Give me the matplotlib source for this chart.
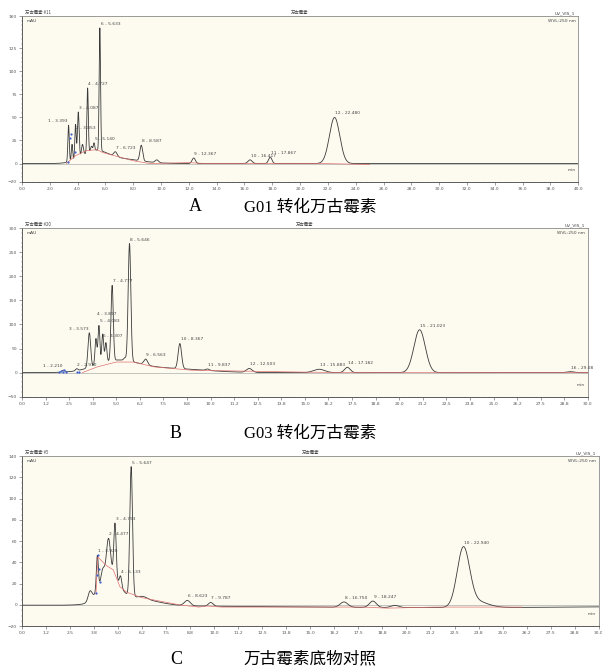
import numpy as np
import matplotlib
matplotlib.use("Agg")
import matplotlib.pyplot as plt
from matplotlib.ticker import MultipleLocator, FixedLocator

plt.rcParams['font.family'] = ['DejaVu Sans', 'Noto Sans CJK SC']

# --- peak tables (retention time, height above hump, width sigma, label) ---
# A: G01
rt_A = [3.35, 3.6, 3.85, 4.05, 4.35, 4.72, 5.0, 5.18, 5.6, 6.72, 8.58, 9.7, 12.35, 16.4, 17.85, 22.48]
h_A = [40, 18, 38, 50, 12, 70, 5, 8, 133, 5, 17, 3, 6, 4, 7, 50]
w_A = [0.05, 0.05, 0.05, 0.06, 0.07, 0.05, 0.06, 0.05, 0.05, 0.12, 0.1, 0.12, 0.12, 0.15, 0.12, 0.37]
lab_A = ["1 - 3.393", None, "2 - 3.853", "3 - 4.087", None, "4 - 4.727", None, "5 - 5.140",
         "6 - 5.633", "7 - 6.723", "8 - 8.587", None, "9 - 12.367", "10 - 16.417",
         "11 - 17.867", "12 - 22.480"]
hump_A_rt = [5.2, 7.0]
hump_A_h = [12, 5]
hump_A_w = [0.9, 1.5]
base_A_t = [3.2, 3.8, 4.6, 5.4, 5.8, 8.0, 9.2, 12.0, 13.2, 21.5, 25.0]
base_A_y = [0, 8, 14, 15, 12, 3, 0, 1, 0, 0, -1]
blue_A_t = [3.3, 3.45, 3.55, 3.8]
blue_A_y = [2, 28, 32, 13]

# B: G03
rt_B = [2.2, 2.9, 3.57, 3.92, 4.08, 4.28, 4.45, 4.78, 5.45, 5.7, 6.56, 8.37, 9.84, 12.05, 15.75, 17.25, 21.08, 29.08]
h_B = [4, 4, 72, 55, 80, 60, 40, 156, 5, 244, 12, 52, 3, 8, 7, 11, 89, 2]
w_B = [0.08, 0.06, 0.07, 0.05, 0.05, 0.05, 0.05, 0.06, 0.06, 0.07, 0.1, 0.09, 0.1, 0.15, 0.3, 0.15, 0.3, 0.2]
lab_B = ["1 - 2.210", "2 - 2.910", "3 - 3.573", "4 - 3.897", "5 - 4.083", "6 - 4.307", None,
         "7 - 4.777", None, "8 - 5.646", "9 - 6.563", "10 - 8.367", "11 - 9.837", "12 - 12.503",
         "13 - 15.883", "14 - 17.182", "15 - 21.023", "16 - 29.08"]
hump_B_rt = [5.0, 7.5]
hump_B_h = [22, 9]
hump_B_w = [1.1, 2.0]
base_B_t = [3.2, 4.0, 5.0, 5.9, 7.0, 9.0, 12.0, 15.0, 18.0, 20.0, 22.5, 30.0]
base_B_y = [0, 12, 22, 22, 12, 5, 3, 1, 0, 0, 0, 0]
blue_B_t = [1.95, 2.05, 2.15, 2.25, 2.35, 2.9, 3.0]
blue_B_y = [1, 4, 2, 5, 1, 1, 2]

# C: substrate control
rt_C = [3.54, 3.92, 4.2, 4.5, 4.84, 5.13, 5.68, 6.3, 8.6, 9.82, 16.75, 18.25, 19.4, 22.96, 23.6]
h_C = [9, 32, 8, 30, 50, 10, 122, 2, 5, 3.5, 5, 6, 2, 54, 6]
w_C = [0.1, 0.05, 0.08, 0.1, 0.06, 0.06, 0.07, 0.2, 0.15, 0.12, 0.2, 0.18, 0.2, 0.32, 0.6]
lab_C = [None, "1 - 3.920", None, "2 - 4.477", "3 - 4.793", "4 - 5.133", "5 - 5.647", None,
         "6 - 8.623", "7 - 9.787", "8 - 16.750", "9 - 18.247", None, "10 - 22.940", None]
hump_C_rt = [4.5, 5.6, 22.0]
hump_C_h = [28, 8, -2.5]
hump_C_w = [0.45, 1.2, 10.0]
base_C_t = [3.85, 3.95, 4.4, 4.75, 5.1, 5.45, 6.2, 8.2, 9.2, 9.6, 10.4, 16.0, 17.7, 19.0, 21.5, 26.0]
base_C_y = [11, 45, 37, 33, 17, 12, 7, 0, -2, -1, -2, -2, -2, -3, -2, -2]
blue_C_t = [3.85, 3.9, 3.95, 4.0, 4.05]
blue_C_y = [11, 28, 47, 34, 22]

# label nudges for crowded clusters: (dx pt, dy pt, ha)
nudge = {
    "1 - 3.393": (-0.5, 1.5, "right"),
    "2 - 3.853": (0.5, -4, "left"),
    "1 - 2.210": (-0.5, 1.5, "right"),
    "3 - 3.573": (-0.5, 1.5, "right"),
    "4 - 3.897": (0.5, 16, "left"),
    "6 - 4.307": (0.5, -3, "left"),
}

panels = [
    dict(rt=rt_A, h=h_A, w=w_A, lab=lab_A, hr=hump_A_rt, hh=hump_A_h, hw=hump_A_w,
         bt=base_A_t, by=base_A_y, blt=blue_A_t, bly=blue_A_y,
         xmax=40.0, ylim=(-20, 160), yticks=[-20, 0, 25, 50, 75, 100, 125, 160],
         xticks=np.arange(0, 40.1, 2.0), run="万古霉素 #11",
         pos=[0.0365, 0.728, 0.924, 0.248], letter="A", cap="G01 转化万古霉素",
         cap_y=0.678, let_x=0.325),
    dict(rt=rt_B, h=h_B, w=w_B, lab=lab_B, hr=hump_B_rt, hh=hump_B_h, hw=hump_B_w,
         bt=base_B_t, by=base_B_y, blt=blue_B_t, bly=blue_B_y,
         xmax=30.0, ylim=(-50, 300), yticks=[-50, 0, 50, 100, 150, 200, 250, 300],
         xticks=np.arange(0, 30.01, 1.25), run="万古霉素 #20",
         pos=[0.0365, 0.407, 0.940, 0.252], letter="B", cap="G03 转化万古霉素",
         cap_y=0.340, let_x=0.292),
    dict(rt=rt_C, h=h_C, w=w_C, lab=lab_C, hr=hump_C_rt, hh=hump_C_h, hw=hump_C_w,
         bt=base_C_t, by=base_C_y, blt=blue_C_t, bly=blue_C_y,
         xmax=30.0, ylim=(-20, 140), yticks=[-20, 0, 20, 40, 60, 80, 100, 120, 140],
         xticks=np.arange(0, 30.01, 1.25), run="万古霉素 #5",
         pos=[0.0365, 0.064, 0.958, 0.254], letter="C", cap="万古霉素底物对照",
         cap_y=0.002, let_x=0.292),
]

fig = plt.figure(figsize=(6.02, 6.69), dpi=100)
fig.patch.set_facecolor("white")

for p in panels:
    ax = fig.add_axes(p["pos"])
    ax.set_facecolor("#fdfbf0")
    t = np.linspace(0, p["xmax"], 6000)
    sig = np.zeros_like(t)
    for c, hh, ww in zip(p["hr"], p["hh"], p["hw"]):
        sig += hh * np.exp(-0.5 * ((t - c) / ww) ** 2)
    for c, hh, ww in zip(p["rt"], p["h"], p["w"]):
        sig += hh * np.exp(-0.5 * ((t - c) / ww) ** 2)
    ax.plot(t, sig, color="#3a3a3a", lw=0.6)
    ax.plot(p["bt"], p["by"], color="#e07070", lw=0.5)
    ax.plot(p["blt"], p["bly"], "o", ms=1.6, color="#4060d0", mec="none")
    ax.axhline(0, color="#9a9a9a", lw=0.4, zorder=0)

    for c, lab in zip(p["rt"], p["lab"]):
        if lab is None:
            continue
        top = np.interp(c, t, sig)
        dx, dy, ha = nudge.get(lab, (0.5, 1.5, "left"))
        ax.annotate(lab, (c, top), xytext=(dx, dy), textcoords="offset points",
                    fontsize=3.2, color="#444444", ha=ha, va="bottom")

    ax.set_xlim(0, p["xmax"])
    ax.set_ylim(*p["ylim"])
    ax.xaxis.set_major_locator(FixedLocator(p["xticks"]))
    ax.set_xticklabels([f"{v:.1f}" for v in p["xticks"]])
    ax.xaxis.set_minor_locator(MultipleLocator(p["xticks"][1] / 5))
    ax.yaxis.set_major_locator(FixedLocator(p["yticks"]))
    ax.yaxis.set_minor_locator(MultipleLocator(5 if p["ylim"][1] < 200 else 10))
    ax.tick_params(labelsize=3.2, colors="#555555", length=2, width=0.4, pad=1.5)
    ax.tick_params(which="minor", length=1, width=0.3, colors="#777777")
    for s in ax.spines.values():
        s.set_color("#8a8a8a")
        s.set_linewidth(0.6)
    ax.spines["left"].set_color("#444444")
    ax.spines["bottom"].set_color("#444444")

    # chromeleon header / corner texts
    ax.text(0.005, 1.005, p["run"], transform=ax.transAxes, fontsize=3.2,
            color="#444444", ha="left", va="bottom", family=["Noto Sans CJK SC", "DejaVu Sans"])
    ax.text(0.5, 1.005, "万古霉素", transform=ax.transAxes, fontsize=3.2,
            color="#444444", ha="center", va="bottom", family=["Noto Sans CJK SC", "DejaVu Sans"])
    ax.text(0.995, 1.005, "UV_VIS_1", transform=ax.transAxes, fontsize=3.2,
            color="#444444", ha="right", va="bottom")
    ax.text(0.995, 0.985, "WVL:250 nm", transform=ax.transAxes, fontsize=3.2,
            color="#444444", ha="right", va="top")
    ax.text(0.008, 0.985, "mAU", transform=ax.transAxes, fontsize=3.2,
            color="#444444", ha="left", va="top")
    ax.text(0.995, 0.06, "min", transform=ax.transAxes, fontsize=3.2,
            color="#444444", ha="right", va="bottom")

    # caption under panel
    fig.text(p["let_x"], p["cap_y"], p["letter"], fontsize=13,
             family="Liberation Serif", ha="center", va="bottom")
    fig.text(0.405, p["cap_y"], p["cap"], fontsize=12,
             family=["Liberation Serif", "Noto Sans CJK SC"], ha="left", va="bottom")

fig.savefig("out.png", dpi=100)
